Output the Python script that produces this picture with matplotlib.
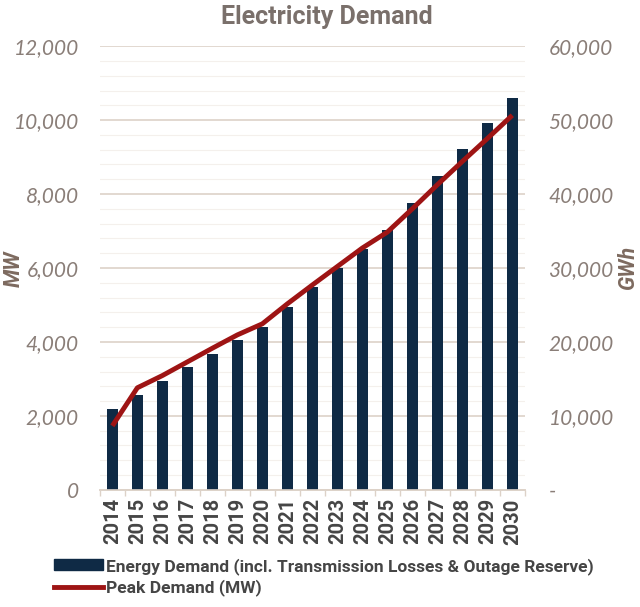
import matplotlib
matplotlib.use("Agg")
import matplotlib.pyplot as plt
from matplotlib.ticker import FixedLocator, FuncFormatter
from matplotlib.patches import Patch
from matplotlib.lines import Line2D

years = ["2014", "2015", "2016", "2017", "2018", "2019", "2020", "2021", "2022",
         "2023", "2024", "2025", "2026", "2027", "2028", "2029", "2030"]
energy_gwh = [10950, 12800, 14700, 16600, 18400, 20300, 22000, 24700, 27400,
              30000, 32600, 35100, 38800, 42400, 46050, 49550, 53050]
peak_mw = [1730, 2760, 3090, 3460, 3830, 4190, 4490, 5030, 5540,
           6040, 6540, 6970, 7600, 8250, 8880, 9500, 10130]
mw_ticks = [0, 2000, 4000, 6000, 8000, 10000, 12000]
gwh_ticks = [0, 10000, 20000, 30000, 40000, 50000, 60000]

title_col = "#7a706b"
tick_col = "#8a7e78"
lab_col = "#7d6a5f"
grid_col = "#ddd2c8"
bar_col = "#0f2a45"
line_col = "#9e1414"
text_dark = "#454545"
cond = ["Roboto", "DejaVu Sans"]
light = ["Lato", "DejaVu Sans"]

fig = plt.figure(figsize=(6.4, 6.07), dpi=100)
ax = fig.add_axes([0.156, 0.193, 0.664, 0.731])
ax2 = ax.twinx()

x = list(range(len(years)))

# bars on right axis (GWh)
ax2.bar(x, energy_gwh, width=0.42, color=bar_col, zorder=3)
ax2.set_ylim(0, 60000)
ax2.set_yticks(gwh_ticks)
ax2.yaxis.set_minor_locator(FixedLocator([v for v in range(0, 60001, 2000) if v % 10000]))
ax2.grid(axis="y", which="major", color=grid_col, linewidth=1.2, zorder=0)
ax2.grid(axis="y", which="minor", color="#f4f0ec", linewidth=0.8, zorder=0)
ax2.set_axisbelow(True)
ax2.yaxis.set_major_formatter(FuncFormatter(lambda v, p: "-" if v == 0 else f"{int(v):,}"))
ax2.tick_params(axis="y", which="both", length=0, pad=17)
for t in ax2.get_yticklabels():
    t.set_fontstyle("italic")
    t.set_family(light)
    t.set_fontsize(15)
    t.set_color(tick_col)

# line on left axis (MW), drawn on top
ax.set_zorder(ax2.get_zorder() + 1)
ax.patch.set_visible(False)
ax.plot(x, peak_mw, color=line_col, linewidth=3.5, solid_capstyle="butt", zorder=4)
ax.set_ylim(0, 12000)
ax.set_yticks(mw_ticks)
ax.yaxis.set_major_formatter(FuncFormatter(lambda v, p: f"{int(v):,}"))
ax.tick_params(axis="y", length=0, pad=15)
for t in ax.get_yticklabels():
    t.set_fontstyle("italic")
    t.set_family(light)
    t.set_fontsize(15)
    t.set_color(tick_col)

ax.set_xlim(-0.5, len(years) - 0.5)
ax.set_xticks(x)
ax.set_xticklabels(years, rotation=90, fontsize=14.5, fontweight="bold", color=text_dark,
                   family=cond)
ax.xaxis.set_minor_locator(FixedLocator([i - 0.5 for i in range(len(years) + 1)]))
ax.tick_params(axis="x", which="major", length=0, pad=6)
ax.tick_params(axis="x", which="minor", length=4, color=grid_col, width=1)

for a in (ax, ax2):
    for s in ("top", "left", "right"):
        a.spines[s].set_visible(False)
    a.spines["bottom"].set_color(grid_col)
    a.spines["bottom"].set_linewidth(1.2)

fig.text(0.021, 0.558, "MW", rotation=90, ha="center", va="center", fontsize=15.5,
         fontweight="bold", fontstyle="italic", color=lab_col, family=cond)
fig.text(0.981, 0.558, "GWh", rotation=90, ha="center", va="center", fontsize=15.5,
         fontweight="bold", fontstyle="italic", color=lab_col, family=cond)

fig.text(0.510, 0.972, "Electricity Demand", ha="center", va="center", fontsize=18,
         fontweight="bold", color=title_col, family=cond)

handles = [Patch(facecolor=bar_col, edgecolor=bar_col),
           Line2D([0], [0], color=line_col, linewidth=3.5)]
labels = ["Energy Demand (incl. Transmission Losses & Outage Reserve)", "Peak Demand (MW)"]
leg = fig.legend(handles, labels, loc="upper left", bbox_to_anchor=(0.085, 0.081),
                 frameon=False, handlelength=2.8, handleheight=0.6, handletextpad=0.15,
                 labelspacing=0.25, prop={"family": cond, "weight": "bold", "size": 12.5},
                 labelcolor=text_dark, borderaxespad=0, borderpad=0)

fig.savefig("out.png", dpi=100)
